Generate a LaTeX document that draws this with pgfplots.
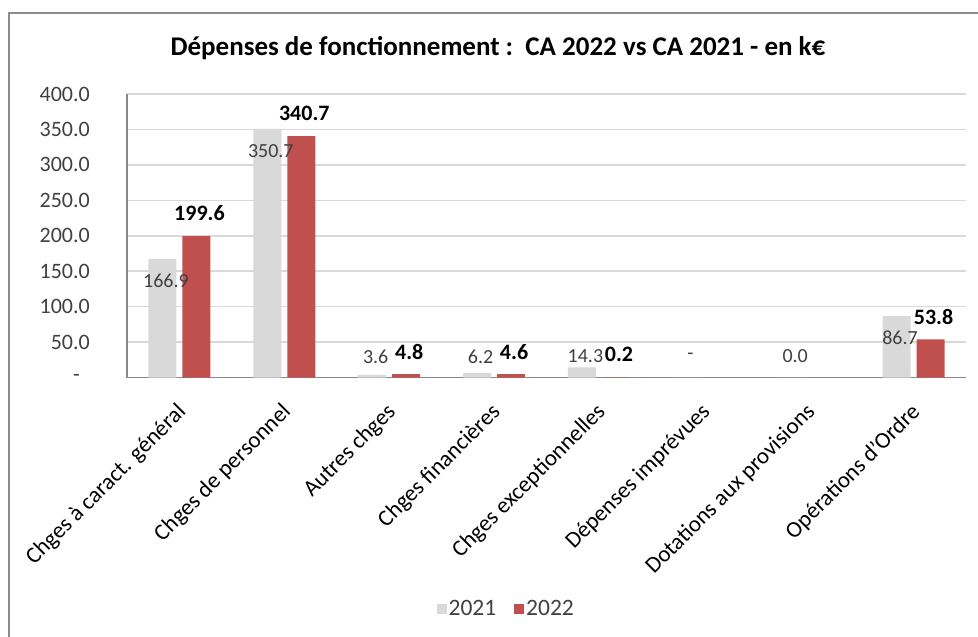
\documentclass[border=0pt]{standalone}
\usepackage{pgfplots}
\pgfplotsset{compat=1.18}
\usepackage{pgfplotstable}
\usepackage{fontspec}
\setmainfont{Carlito}

\definecolor{g21}{HTML}{D9D9D9}
\definecolor{r22}{HTML}{C0504D}
\definecolor{gridc}{HTML}{D9D9D9}
\definecolor{axc}{HTML}{898989}
\definecolor{txt}{HTML}{404040}
\definecolor{framec}{HTML}{8C8C8C}

\pgfplotstableread{
x y dy lbl
0 166.9 -22 166.9
1 350.7 -22 350.7
2 3.6 18.4 3.6
3 6.2 16.6 6.2
4 14.3 10.9 14.3
5 0 21 -
6 0.0 21 0.0
7 86.7 -22 86.7
}\tA

\pgfplotstableread{
x y lbl
0 199.6 199.6
1 340.7 340.7
2 4.8 4.8
3 4.6 4.6
4 0.2 0.2
7 53.8 53.8
}\tB

\begin{document}
\begin{tikzpicture}
\useasboundingbox (0,0) rectangle (978bp,637bp);
\fill[white] (0,0) rectangle (978bp,637bp);
\draw[framec, line width=2bp] (9bp,-5bp) -- (9bp,624bp) -- (990bp,624bp);
\node[font=\bfseries\fontsize{27bp}{32bp}\selectfont, text=black] at (498bp,589bp)
  {Dépenses de fonctionnement :\ \ CA 2022 vs CA 2021 - en k€};
\begin{axis}[
  at={(127bp,259.5bp)}, anchor=south west,
  scale only axis, width=839bp, height=283.5bp,
  xmin=-0.5, xmax=7.5, ymin=0, ymax=400,
  axis lines=left,
  axis line style={-, draw=axc, line width=1.5bp},
  ymajorgrids, grid style={gridc, line width=1.5bp},
  major tick length=0pt,
  ytick={0,50,...,400},
  yticklabels={-\hspace*{10bp},50.0,100.0,150.0,200.0,250.0,300.0,350.0,400.0},
  yticklabel style={anchor=east, inner sep=0pt, xshift=-37bp, text=txt,
    font=\fontsize{22bp}{26bp}\selectfont},
  xtick={0,...,7},
  xticklabels={Chges à caract. général, Chges de personnel, Autres chges, Chges financières, Chges exceptionnelles, Dépenses imprévues, Dotations aux provisions, Opérations d'Ordre},
  xticklabel style={xshift=-4bp, yshift=-24bp, rotate=45, anchor=north east, inner sep=0pt,
    text=black, font=\fontsize{23bp}{27bp}\selectfont},
  ybar, bar width=28bp,
  legend columns=2,
  legend style={at={(0.452,-0.817)}, anchor=center, draw=none, fill=none,
    font=\fontsize{23.5bp}{27bp}\selectfont, text=txt,
    /tikz/every even column/.append style={column sep=16bp}},
  legend image code/.code={\fill[#1] (-9bp,-5bp) rectangle (1bp,5bp);},
]
\addplot[fill=g21, draw=none, bar shift=-17bp,
  nodes near coords, point meta=explicit symbolic,
  visualization depends on={\thisrow{dy} \as \dy},
  every node near coord/.append style={anchor=center, yshift=\dy*1bp, xshift=3.5bp,
    text=txt, font=\fontsize{20bp}{23bp}\selectfont, inner sep=0pt}]
  table[x=x, y=y, meta=lbl] {\tA};
\addlegendentry{2021}
\addplot[fill=r22, draw=none, bar shift=17bp,
  nodes near coords, point meta=explicit symbolic,
  every node near coord/.append style={anchor=center, yshift=22.5bp, xshift=3bp,
    text=black, font=\bfseries\fontsize{22bp}{25bp}\selectfont, inner sep=0pt}]
  table[x=x, y=y, meta=lbl] {\tB};
\addlegendentry{2022}
\end{axis}
\end{tikzpicture}
\end{document}
